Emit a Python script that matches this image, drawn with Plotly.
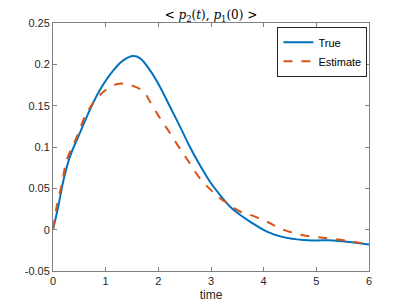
import plotly.graph_objects as go

t_true = [0, 0.10, 0.20, 0.32, 0.51, 0.70, 0.89, 1.15, 1.34, 1.52, 1.65, 1.84, 2.03, 2.22, 2.41, 2.60, 2.79, 2.98, 3.17, 3.36, 3.55, 3.74, 4.05, 4.37, 4.75, 5.0, 5.32, 5.64, 6.0]
v_true = [0, 0.028, 0.060, 0.088, 0.117, 0.145, 0.169, 0.193, 0.205, 0.210, 0.2076, 0.193, 0.173, 0.149, 0.125, 0.100, 0.078, 0.058, 0.042, 0.028, 0.018, 0.0097, -0.002, -0.009, -0.0125, -0.013, -0.013, -0.015, -0.018]

t_est = [0, 0.07, 0.17, 0.26, 0.45, 0.64, 0.89, 1.21, 1.46, 1.72, 1.84, 2.03, 2.22, 2.41, 2.60, 2.79, 2.98, 3.17, 3.36, 3.55, 3.74, 4.05, 4.37, 4.69, 5.0, 5.32, 5.64, 6.0]
v_est = [0, 0.028, 0.056, 0.084, 0.112, 0.141, 0.163, 0.176, 0.175, 0.167, 0.155, 0.135, 0.117, 0.098, 0.080, 0.062, 0.049, 0.038, 0.030, 0.022, 0.018, 0.010, 0.000, -0.006, -0.009, -0.011, -0.014, -0.018]

x_ticks = [0, 1, 2, 3, 4, 5, 6]
y_ticks = [-0.05, 0, 0.05, 0.1, 0.15, 0.2, 0.25]
y_tick_labels = ["-0.05", "0", "0.05", "0.1", "0.15", "0.2", "0.25"]

fig = go.Figure()
fig.add_trace(go.Scatter(x=t_true, y=v_true, mode="lines", name="True",
                         line=dict(color="#0072BD", width=2, shape="spline", smoothing=1.0)))
fig.add_trace(go.Scatter(x=t_est, y=v_est, mode="lines", name="Estimate",
                         line=dict(color="#D95319", width=2, dash="dash", shape="spline", smoothing=1.0)))

axis_common = dict(showline=True, linecolor="#808080", linewidth=1, mirror="ticks",
                   ticks="inside", ticklen=4, tickcolor="#808080", showgrid=False,
                   zeroline=False, automargin=False,
                   tickfont=dict(family="Liberation Sans, Arial", size=11, color="#262626"))

# page body has an 8px default margin, so the figure is sized to fit the window
fig.update_layout(
    width=399, height=297,
    margin=dict(l=45, r=38, t=15, b=34),
    paper_bgcolor="white", plot_bgcolor="white",
    title=dict(text="&lt; <i>p</i><sub>2</sub>(<i>t</i>), <i>p</i><sub>1</sub>(0) &gt;",
               x=0.5, xanchor="center", xref="paper", y=1, yref="paper", yanchor="bottom",
               pad=dict(b=4, t=0),
               font=dict(family="DejaVu Serif, serif", size=12, color="#000000")),
    xaxis=dict(range=[0, 6], tickvals=x_ticks, title=dict(text="time", standoff=4,
               font=dict(family="Liberation Sans, Arial", size=12, color="#262626")), **axis_common),
    yaxis=dict(range=[-0.05, 0.25], tickvals=y_ticks, ticktext=y_tick_labels, **axis_common),
    legend=dict(x=0.995, y=0.985, xanchor="right", yanchor="top", bordercolor="#262626",
                borderwidth=1, bgcolor="white",
                font=dict(family="Liberation Sans, Arial", size=11, color="#000000"),
                tracegroupgap=0, itemwidth=30),
    showlegend=True,
)

fig.write_html("out.html")
